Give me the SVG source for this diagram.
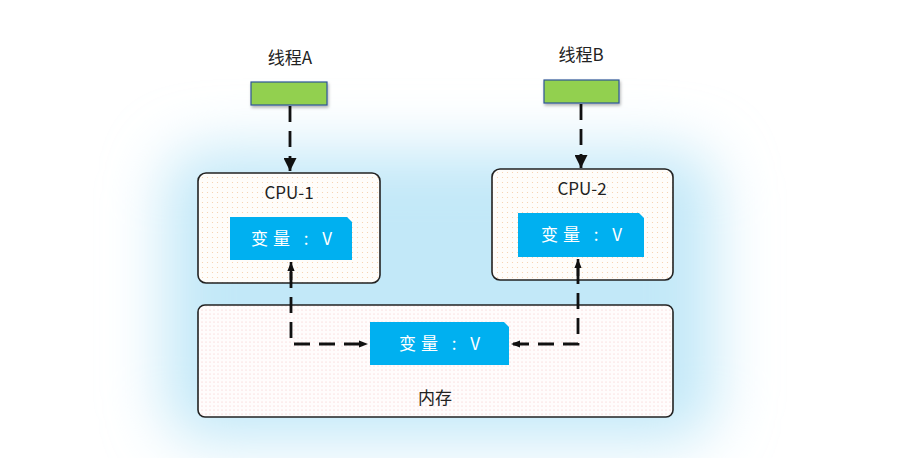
<svg xmlns="http://www.w3.org/2000/svg" width="902" height="458" viewBox="0 0 902 458">
<defs>
<filter id="glow" x="-30%" y="-30%" width="160%" height="160%"><feGaussianBlur stdDeviation="30"/></filter>
<filter id="sh" x="-20%" y="-30%" width="140%" height="160%"><feDropShadow dx="1" dy="2" stdDeviation="1.5" flood-color="#000" flood-opacity="0.3"/></filter>
<pattern id="dotO" width="5" height="5" patternUnits="userSpaceOnUse"><rect width="5" height="5" fill="#fffdfa"/><circle cx="2.5" cy="2.5" r="0.6" fill="#f6cfa8"/></pattern>
<pattern id="dotR" width="4" height="4" patternUnits="userSpaceOnUse"><rect width="4" height="4" fill="#fffcfc"/><circle cx="2" cy="2" r="0.5" fill="#f3b8b8"/></pattern>
<marker id="big" viewBox="0 0 10 10" refX="10" refY="5" markerWidth="13" markerHeight="13" markerUnits="userSpaceOnUse" orient="auto"><path d="M0,0 L10,5 L0,10 z" fill="#111"/></marker>
<marker id="sm" viewBox="0 0 10 10" refX="10" refY="5" markerWidth="9" markerHeight="9" markerUnits="userSpaceOnUse" orient="auto"><path d="M0,1 L10,5 L0,9 z" fill="#111"/></marker>
</defs>
<style>
.lbl{font-family:"Noto Sans CJK SC","Liberation Sans",sans-serif;font-size:17px;fill:#222;text-anchor:middle}
.var{font-family:"Noto Sans CJK SC","Liberation Sans",sans-serif;font-size:17px;fill:#fff;text-anchor:middle;letter-spacing:5px}
.box{stroke:#222;stroke-width:1.6}
.green{fill:#92d050;stroke:#2f5597;stroke-width:1.2}
.blue{fill:#00b0f0}
.con{fill:none;stroke:#111;stroke-width:2.8;stroke-dasharray:16,9}
.solid{stroke:#111;stroke-width:2.6}
</style>
<rect width="902" height="458" fill="#fff"/>
<g id="background">
<rect x="165" y="150" width="550" height="290" rx="40" fill="#c2e8f8" filter="url(#glow)"/>
</g>
<g id="threadA">
<text class="lbl" x="290" y="64">线程A</text>
<rect class="green" x="251" y="82" width="76" height="23" filter="url(#sh)"/>
</g>
<g id="threadB">
<text class="lbl" x="581" y="61">线程B</text>
<rect class="green" x="544" y="80" width="75" height="23" filter="url(#sh)"/>
</g>
<g id="cpu1">
<rect class="box" x="198" y="173" width="182" height="110" rx="8" fill="url(#dotO)"/>
<text class="lbl" x="289" y="199">CPU-1</text>
<path class="blue" d="M230,217 H347 L352,222 V260 H230 Z"/>
<text class="var" x="294" y="245">变量 : V</text>
</g>
<g id="cpu2">
<rect class="box" x="492" y="169" width="181" height="111" rx="8" fill="url(#dotO)"/>
<text class="lbl" x="582" y="195">CPU-2</text>
<path class="blue" d="M518,213 H639 L644,218 V257 H518 Z"/>
<text class="var" x="584" y="241">变量 : V</text>
</g>
<g id="memory">
<rect class="box" x="198" y="305" width="475" height="112" rx="7" fill="url(#dotR)"/>
<path class="blue" d="M370,322 H504 L509,327 V365 H370 Z"/>
<text class="var" x="442" y="350">变量 : V</text>
<text class="lbl" x="435" y="404">内存</text>
</g>
<g id="connectors">
<path class="con" d="M290,106 V171" marker-end="url(#big)"/>
<path class="con" d="M581,104 V168" marker-end="url(#big)"/>
<path class="con" d="M291,272 V344 H368" marker-end="url(#sm)"/>
<line class="solid" x1="291" y1="280" x2="291" y2="262" marker-end="url(#sm)"/>
<path class="con" d="M578,268 V344 H511" marker-end="url(#sm)"/>
<line class="solid" x1="578" y1="276" x2="578" y2="259" marker-end="url(#sm)"/>
</g>
</svg>
